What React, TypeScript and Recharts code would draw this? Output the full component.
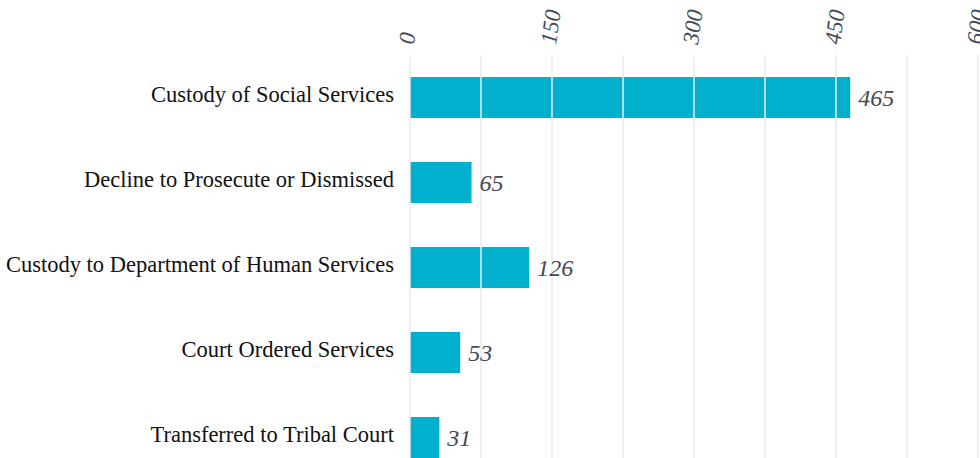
import { BarChart, Bar, XAxis, YAxis, CartesianGrid, ReferenceLine, LabelList } from "recharts";

const categories = [
  "Custody of Social Services",
  "Decline to Prosecute or Dismissed",
  "Custody to Department of Human Services",
  "Court Ordered Services",
  "Transferred to Tribal Court",
];
const counts = [465, 65, 126, 53, 31];
const xTicks = [0, 150, 300, 450, 600];
const gridValues = [0, 75, 150, 225, 300, 375, 450, 525, 600];

const data = categories.map((name, i) => ({ name, count: counts[i] }));

const FONT = "'Liberation Serif', 'Times New Roman', serif";

function TopTick(props: any) {
  const { x, payload } = props;
  return (
    <text
      transform={`translate(${x + 4},45) rotate(-82)`}
      textAnchor="start"
      fontFamily={FONT}
      fontStyle="italic"
      fontSize={23}
      fill="#444a56"
    >
      {payload.value}
    </text>
  );
}

export default function App() {
  return (
    <div style={{ position: "absolute", left: 0, top: 0, background: "#fff" }}>
      <BarChart
        width={980}
        height={480}
        data={data}
        layout="vertical"
        margin={{ top: 0, right: 2, bottom: 0, left: 0 }}
        barCategoryGap="26%"
      >
        <CartesianGrid horizontal={false} vertical={false} />
        <XAxis
          type="number"
          orientation="top"
          domain={[0, 600]}
          ticks={xTicks}
          height={55}
          axisLine={false}
          tickLine={false}
          tick={<TopTick />}
          interval={0}
        />
        <YAxis
          type="category"
          dataKey="name"
          width={410}
          axisLine={false}
          tickLine={false}
          tickMargin={10}
          interval={0}
          tick={{ fontFamily: FONT, fontSize: 22.5, fill: "#111", dy: -3 }}
        />
        <Bar dataKey="count" fill="#00b0cc" isAnimationActive={false}>
          <LabelList
            dataKey="count"
            position="right"
            offset={8}
            style={{ fontFamily: FONT, fontStyle: "italic", fontSize: 24, fill: "#444a56" }}
          />
        </Bar>
        {gridValues.map((v) => (
          <ReferenceLine key={v} x={v} stroke="#e6ebf0" strokeOpacity={0.75} strokeWidth={2} />
        ))}
      </BarChart>
    </div>
  );
}
